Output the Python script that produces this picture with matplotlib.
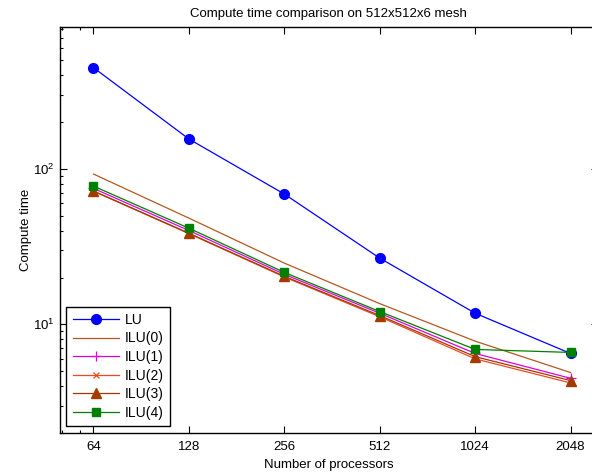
import matplotlib
matplotlib.use("Agg")
import matplotlib.pyplot as plt
from matplotlib.ticker import FixedLocator, FixedFormatter, LogLocator, NullFormatter

plt.rcParams['font.family'] = ['Liberation Sans', 'DejaVu Sans']
plt.rcParams['mathtext.fontset'] = 'custom'
plt.rcParams['mathtext.rm'] = 'Liberation Sans'
plt.rcParams['mathtext.it'] = 'Liberation Sans:italic'
plt.rcParams['mathtext.bf'] = 'Liberation Sans:bold'

procs = [64, 128, 256, 512, 1024, 2048]
tick_labels = ['64', '128', '256', '512', '1024', '2048']
lu = [449, 156, 69, 26.7, 11.8, 6.5]
ilu0 = [92.8, 48.3, 24.8, 13.6, 7.8, 4.9]
ilu1 = [75, 40.2, 21.0, 11.8, 6.5, 4.5]
ilu2 = [72, 38.4, 20.2, 11.2, 6.0, 4.2]
ilu3 = [72.2, 38.6, 20.4, 11.4, 6.2, 4.35]
ilu4 = [77.6, 41.6, 21.6, 12.1, 6.9, 6.6]

W, H = 592, 474
fig = plt.figure(figsize=(W/100, H/100), dpi=100)
ax = fig.add_axes([59.5/W, 1-433/H, (598-59.5)/W, (433-27)/H])

ax.plot(procs, lu, '-o', color='#0000FF', lw=0.9, ms=7, label='LU')
ax.plot(procs, ilu0, '-', color='#B5581F', lw=0.9, label='ILU(0)')
ax.plot(procs, ilu1, '-+', color='#E000E0', lw=0.9, ms=7, mew=0.9, label='ILU(1)')
ax.plot(procs, ilu2, '-x', color='#EE4A22', lw=0.9, ms=5, mew=0.9, label='ILU(2)')
ax.plot(procs, ilu3, '-^', color='#A33A00', lw=0.9, ms=6.5, label='ILU(3)')
ax.plot(procs, ilu4, '-s', color='#008000', lw=0.9, ms=5.5, label='ILU(4)')

ax.set_xscale('log')
ax.set_yscale('log')
ax.set_xlim(50, 2500)
ax.set_ylim(2, 820)
ax.xaxis.set_major_locator(FixedLocator(procs))
ax.xaxis.set_major_formatter(FixedFormatter(tick_labels))
ax.xaxis.set_minor_locator(FixedLocator([51, 58]))
ax.xaxis.set_minor_formatter(NullFormatter())
ax.tick_params(which='both', direction='in', top=True, right=True, labelsize=9.5, width=0.8)
ax.tick_params(which='major', length=5)
ax.tick_params(which='minor', length=2.5)
ax.tick_params(axis='x', which='major', pad=6)
for s in ax.spines.values():
    s.set_linewidth(1.0)

ax.set_title('Compute time comparison on 512x512x6 mesh', fontsize=9.5, pad=7)
ax.set_xlabel('Number of processors', fontsize=9.5, labelpad=4)
ax.set_ylabel('Compute time', fontsize=9.5, labelpad=1)

leg = ax.legend(loc='lower left', fontsize=10, frameon=True, fancybox=False,
                edgecolor='black', framealpha=1, handlelength=3.3,
                borderaxespad=0.5, labelspacing=0.33, handletextpad=0.45,
                borderpad=0.45)
leg.get_frame().set_linewidth(1.0)

fig.savefig('out.png', dpi=100)
